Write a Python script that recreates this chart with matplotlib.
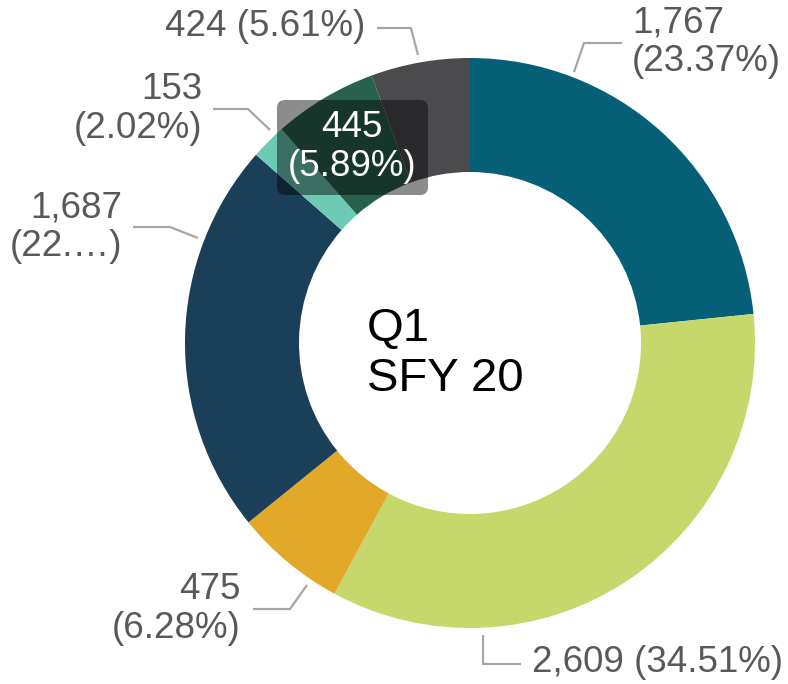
#!/usr/bin/env python3

import matplotlib
matplotlib.use("Agg")
import matplotlib.pyplot as plt
from matplotlib.patches import FancyBboxPatch

# slices, clockwise from 12 o'clock
VALUES = [1767, 2609, 475, 1687, 153, 445, 424]
LABELS = [
    "1,767\n(23.37%)",
    "2,609 (34.51%)",
    "475\n(6.28%)",
    "1,687\n(22.\u2026)",
    "153\n(2.02%)",
    "445\n(5.89%)",
    "424 (5.61%)",
]
COLORS = ["#045f77", "#c6d76b", "#e2a827", "#1b3f58", "#6dcab5", "#29614f", "#4b4a4d"]
CENTER_TEXT = "Q1\nSFY 20"

W, H = 788, 684
CX, CY, R = 470, 343, 285
RING = 114
TEXT_GREY = "#595959"
LEADER_GREY = "#a6a6a6"
FONT = "Liberation Sans"


def py(y):
    # pixel row (from top) -> data y
    return H - y


def main():
    fig = plt.figure(figsize=(W / 100, H / 100), dpi=100)
    ax = fig.add_axes([0, 0, 1, 1])

    ax.pie(
        VALUES,
        colors=COLORS,
        startangle=90,
        counterclock=False,
        radius=R,
        center=(CX, py(CY)),
        frame=True,
        wedgeprops=dict(width=RING, linewidth=0),
    )
    ax.set_xlim(0, W)
    ax.set_ylim(0, H)
    ax.set_aspect("equal")
    ax.axis("off")

    ax.text(367, py(354), CENTER_TEXT, fontsize=34, family=FONT, color="black",
            ha="left", va="center", linespacing=1.2)

    # leader lines (pixel coords)
    leaders = [
        [(574, 72), (584, 43), (622, 43)],
        [(483, 635), (483, 664), (521, 664)],
        [(307, 585), (290, 609), (253, 609)],
        [(198, 238), (170, 227), (133, 227)],
        [(270, 130), (248, 109), (213, 109)],
        [(418, 55), (411, 28), (377, 28)],
    ]
    for pts in leaders:
        ax.plot([p[0] for p in pts], [py(p[1]) for p in pts],
                color=LEADER_GREY, linewidth=1.6, solid_capstyle="butt")

    # outside labels: (index, x, y, ha)
    placements = [
        (0, 632, 42, "left"),
        (1, 532, 662, "left"),
        (2, 241, 609, "right"),
        (3, 122, 227, "right"),
        (4, 202, 109, "right"),
        (6, 365, 26, "right"),
    ]
    for i, x, y, ha in placements:
        ax.text(x, py(y), LABELS[i], fontsize=26.5, family=FONT, color=TEXT_GREY,
                ha=ha, va="center", linespacing=1.12, multialignment=ha)

    # hover tooltip for the 445 slice
    box = FancyBboxPatch((277, py(195)), 151, 95,
                         boxstyle="round,pad=0,rounding_size=8",
                         facecolor="black", edgecolor="none", alpha=0.45)
    ax.add_patch(box)
    ax.text(352, py(147), LABELS[5], fontsize=26.5, family=FONT, color="white",
            ha="center", va="center", linespacing=1.12)

    fig.savefig("out.png", dpi=100)
    plt.close(fig)


if __name__ == "__main__":
    main()
